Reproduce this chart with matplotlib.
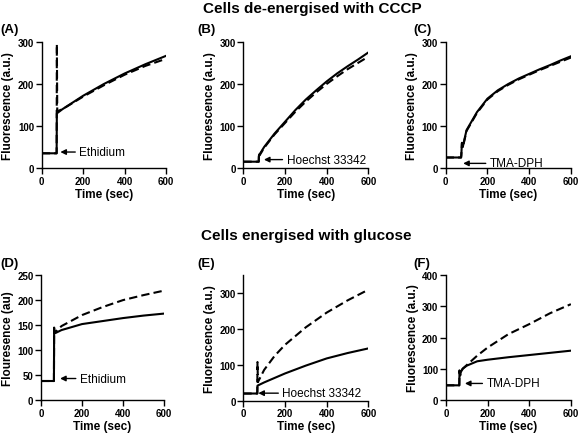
import matplotlib.pyplot as plt

plt.rcParams['font.family'] = ['Liberation Sans', 'DejaVu Sans']

# (A) Ethidium, de-energised (CCCP)
a_t_solid = [0, 72, 73, 100, 200, 300, 400, 500, 600]
a_solid = [35, 35, 130, 140, 172, 200, 225, 247, 267]
a_t_dash = [0, 72, 73, 75, 100, 200, 300, 400, 500, 600]
a_dash = [35, 35, 295, 135, 140, 170, 197, 222, 243, 260]

# (B) Hoechst 33342, de-energised
b_t_solid = [0, 74, 75, 100, 150, 200, 250, 300, 350, 400, 450, 500, 550, 600]
b_solid = [15, 15, 30, 50, 82, 110, 138, 163, 185, 206, 225, 242, 258, 275]
b_t_dash = [0, 74, 75, 78, 100, 150, 200, 250, 300, 350, 400, 450, 500, 550, 600]
b_dash = [15, 15, 36, 30, 48, 80, 107, 134, 158, 180, 200, 218, 235, 250, 265]

# (C) TMA-DPH, de-energised
c_t_solid = [0, 74, 75, 78, 82, 100, 150, 200, 250, 300, 350, 400, 450, 500, 550, 600]
c_solid = [25, 25, 30, 60, 50, 90, 133, 165, 185, 200, 213, 224, 235, 245, 256, 266]
c_t_dash = [0, 74, 75, 78, 82, 100, 150, 200, 250, 300, 350, 400, 450, 500, 550, 600]
c_dash = [25, 25, 30, 58, 48, 88, 131, 163, 183, 198, 211, 222, 233, 243, 253, 263]

# (D) Ethidium, energised (glucose)
d_t_solid = [0, 63, 64, 66, 70, 100, 200, 300, 400, 500, 600]
d_solid = [38, 38, 145, 135, 134, 140, 152, 158, 164, 169, 173]
d_t_dash = [0, 63, 64, 66, 70, 100, 200, 300, 400, 500, 600]
d_dash = [38, 38, 140, 134, 136, 148, 170, 186, 200, 210, 219]

# (E) Hoechst 33342, energised
e_t_solid = [0, 67, 68, 100, 200, 300, 400, 500, 600]
e_solid = [20, 20, 42, 51, 76, 98, 118, 133, 146]
e_t_dash = [0, 67, 68, 70, 100, 150, 200, 300, 400, 500, 600]
e_dash = [20, 20, 108, 52, 86, 125, 156, 205, 246, 280, 310]

# (F) TMA-DPH, energised
f_t_solid = [0, 64, 65, 68, 72, 80, 100, 150, 200, 300, 400, 500, 600]
f_solid = [47, 47, 95, 80, 90, 100, 110, 124, 129, 137, 144, 151, 158]
f_t_dash = [0, 64, 65, 68, 72, 80, 100, 150, 200, 300, 400, 500, 600]
f_dash = [47, 47, 92, 78, 88, 100, 112, 142, 168, 211, 243, 278, 307]

x_ticks = [0, 200, 400, 600]

panels = [
    # label, label pos (fig), rect, solid, dash, ymax, yticks, ylabel, marker text, text x, text y, arrow tip x
    ('(A)', (0.0, 0.931), [0.0718, 0.6115, 0.214, 0.2897], (a_t_solid, a_solid), (a_t_dash, a_dash),
     300, [0, 100, 200, 300], 'Fluorescence (a.u.)', 'Ethidium', 182, 38, 90),
    ('(B)', (0.339, 0.931), [0.4188, 0.6115, 0.2151, 0.2897], (b_t_solid, b_solid), (b_t_dash, b_dash),
     300, [0, 100, 200, 300], 'Fluorescence (a.u.)', 'Hoechst 33342', 208, 20, 99),
    ('(C)', (0.711, 0.931), [0.767, 0.6115, 0.2157, 0.2897], (c_t_solid, c_solid), (c_t_dash, c_dash),
     300, [0, 100, 200, 300], 'Fluorescence (a.u.)', 'TMA-DPH', 212, 11, 84),
    ('(D)', (0.0, 0.393), [0.0706, 0.0782, 0.2117, 0.287], (d_t_solid, d_solid), (d_t_dash, d_dash),
     250, [0, 50, 100, 150, 200, 250], 'Flouresence (au)', 'Ethidium', 190, 43, 93),
    ('(E)', (0.339, 0.393), [0.4188, 0.0766, 0.2151, 0.288], (e_t_solid, e_solid), (e_t_dash, e_dash),
     350, [0, 100, 200, 300], 'Fluorescence (a.u.)', 'Hoechst 33342', 188, 21, 72),
    ('(F)', (0.711, 0.393), [0.7676, 0.0782, 0.215, 0.287], (f_t_solid, f_solid), (f_t_dash, f_dash),
     400, [0, 100, 200, 300, 400], 'Fluorescence (a.u.)', 'TMA-DPH', 195, 53, 91),
]

fig = plt.figure(figsize=(5.81, 4.35), dpi=100)

for (lab, lab_pos, rect, solid, dash, ymax, yticks, ylabel, txt, tx, ty, tip) in panels:
    ax = fig.add_axes(rect)
    ax.plot(solid[0], solid[1], color='black', lw=1.5)
    ax.plot(dash[0], dash[1], color='black', lw=1.5, ls=(0, (4, 2)))
    ax.set_xlim(0, 600)
    ax.set_ylim(0, ymax)
    ax.set_xticks(x_ticks)
    ax.set_yticks(yticks)
    for s in ['top', 'right']:
        ax.spines[s].set_visible(False)
    for s in ['left', 'bottom']:
        ax.spines[s].set_linewidth(1.0)
    ax.tick_params(direction='out', length=4, width=1, labelsize=7, pad=1.5)
    for t in ax.get_xticklabels() + ax.get_yticklabels():
        t.set_fontweight('bold')
    ax.set_xlabel('Time (sec)', fontsize=8.5, fontweight='bold', labelpad=1.5)
    ax.set_ylabel(ylabel, fontsize=8.5, fontweight='bold', labelpad=2.5)
    ax.annotate(txt, xy=(tip, ty), xytext=(tx, ty), fontsize=8.5, va='center', ha='left',
                arrowprops=dict(arrowstyle='-|>', color='black', lw=1, mutation_scale=8,
                                shrinkA=1, shrinkB=0))
    fig.text(lab_pos[0], lab_pos[1], lab, fontsize=9.5, fontweight='bold',
             ha='left', va='center')

fig.text(0.537, 0.980, 'Cells de-energised with CCCP', fontsize=11, fontweight='bold',
         ha='center', va='center')
fig.text(0.527, 0.4565, 'Cells energised with glucose', fontsize=11, fontweight='bold',
         ha='center', va='center')

fig.savefig('out.png', dpi=100)
